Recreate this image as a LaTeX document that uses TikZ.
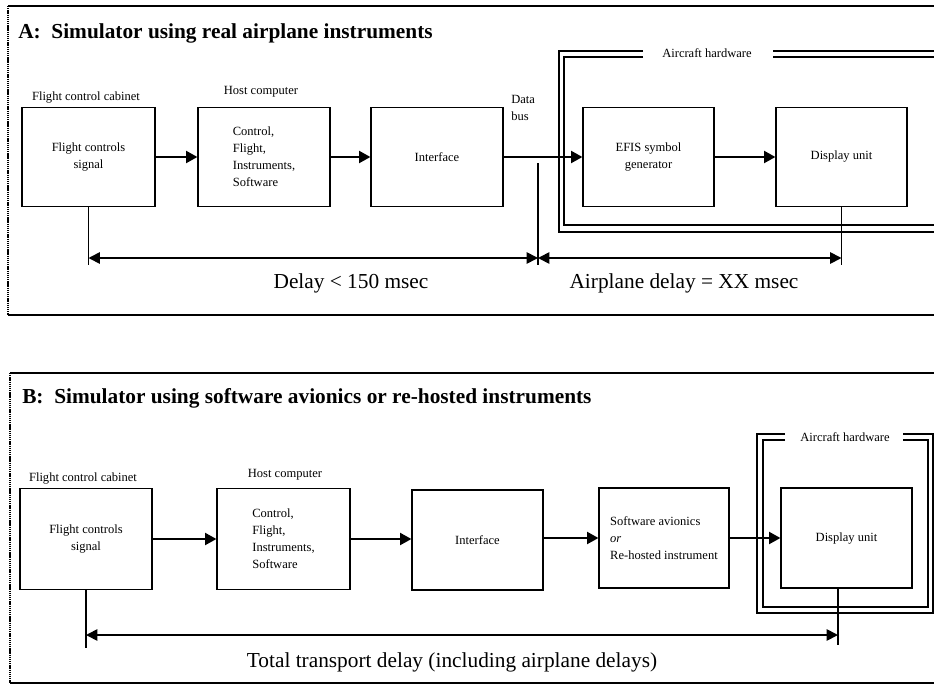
\documentclass[tikz,border=0pt]{standalone}
\usepackage{fontspec}
\setmainfont{Liberation Serif}
\usetikzlibrary{arrows.meta}
\begin{document}
\begin{tikzpicture}[x=0.75pt,y=-0.75pt,
  sz/.style 2 args={minimum width=#1*0.75pt,minimum height=#2*0.75pt},
  box/.style={draw,line width=0.9pt,inner sep=0pt,align=center,font=\fontsize{9.4}{12.75}\selectfont},
  small/.style={inner sep=0pt,align=left,font=\fontsize{9.4}{12.75}\selectfont},
  title/.style={inner sep=0pt,anchor=base west,font=\fontsize{16}{19}\selectfont\bfseries},
  big/.style={inner sep=0pt,anchor=base,font=\fontsize{16}{19}\selectfont},
  arr/.style={line width=1.5pt,-{Triangle[length=8.5pt,width=9pt]}},
  dim/.style={line width=1.3pt,{Triangle[length=8.5pt,width=8.5pt]}-{Triangle[length=8.5pt,width=8.5pt]}},
  tick/.style={line width=1.1pt},
  hw/.style={line width=0.9pt},
  panel/.style={line width=1.1pt},
  panelside/.style={line width=1.1pt,dash pattern=on 1pt off 0.6pt}
]
\useasboundingbox (0,0) rectangle (934,685);

% ---------- Panel A ----------
\draw[panel] (8,6) -- (934,6);
\draw[panel] (8,315) -- (934,315);
\draw[panelside] (8,6) -- (8,315);
\node[title] (tA) at (18,39) {A:\ \ Simulator using real airplane instruments};

% aircraft hardware enclosure (double line)
\draw[hw] (643,51) -- (559,51) -- (559,232) -- (934,232);
\draw[hw] (773,51) -- (934,51);
\draw[hw] (643,57) -- (564,57) -- (564,225) -- (934,225);
\draw[hw] (773,57) -- (934,57);
\node[small] (hwA) at (707,53) {Aircraft hardware};

\node[box,sz={133}{99}] (a1) at (88.5,157) {Flight controls\\signal};
\node[small,anchor=base] (a1l) at (86,100) {Flight control cabinet};
\node[box,sz={132}{99},align=left] (a2) at (264,157) {Control,\\Flight,\\Instruments,\\Software};
\node[small,anchor=base] (a2l) at (261,94) {Host computer};
\node[box,sz={132}{99}] (a3) at (437,157) {Interface};
\node[small,anchor=west] (dbus) at (511,108) {Data\\bus};
\node[box,sz={131}{99}] (a4) at (648.5,157) {EFIS symbol\\generator};
\node[box,sz={131}{99}] (a5) at (841.5,157) {Display unit};

\draw[arr] (a1.east) -- (a2.west);
\draw[arr] (a2.east) -- (a3.west);
\draw[arr] (a3.east) -- (a4.west);
\draw[arr] (a4.east) -- (a5.west);

% delay dimensions
\coordinate (busTop) at (538,163);
\coordinate (busFoot) at (538,265);
\coordinate (dA) at (538,258);
\draw[tick] (busTop) -- (busFoot);
\draw[tick] (a1.south) -- (a1.south |- busFoot);
\draw[tick] (a5.south) -- (a5.south |- busFoot);
\draw[dim] (a1.south |- dA) -- (dA);
\draw[dim] (dA) -- (a5.south |- dA);
\node[big] (dl1) at (351,288) {Delay < 150 msec};
\node[big] (dl2) at (684,288) {Airplane delay = XX msec};

% ---------- Panel B ----------
\draw[panel] (10,373) -- (934,373);
\draw[panel] (10,683) -- (934,683);
\draw[panelside] (10,373) -- (10,683);
\node[title] (tB) at (22,403) {B:\ \ Simulator using software avionics or re-hosted instruments};

% aircraft hardware enclosure (double line)
\draw[hw] (785,434) -- (757,434) -- (757,613) -- (933,613) -- (933,434) -- (903,434);
\draw[hw] (785,440) -- (763,440) -- (763,607) -- (928,607) -- (928,440) -- (903,440);
\node[small] (hwB) at (845,437) {Aircraft hardware};

\node[box,sz={132}{101}] (c1) at (86,539) {Flight controls\\signal};
\node[small,anchor=base] (c1l) at (83,481) {Flight control cabinet};
\node[box,sz={133}{101},align=left] (c2) at (283.5,539) {Control,\\Flight,\\Instruments,\\Software};
\node[small,anchor=base] (c2l) at (285,477) {Host computer};
\node[box,sz={131}{100}] (c3) at (477.5,540) {Interface};
\node[box,sz={130}{100},align=left] (c4) at (664,538) {Software avionics\\\textit{or}\\Re-hosted instrument};
\node[box,sz={131}{100}] (c5) at (846.5,538) {Display unit};

\draw[arr] (c1.east) -- (c2.west);
\draw[arr] (c2.east) -- (c3.west |- c2.east);
\draw[arr] (c3.east |- c4.west) -- (c4.west);
\draw[arr] (c4.east) -- (c5.west);

% total delay dimension
\coordinate (dB) at (838,635);
\coordinate (c5foot) at (838,645);
\draw[tick] (c1.south) -- ++(0,58);
\draw[tick] (c5.south -| c5foot) -- (c5foot);
\draw[dim] (c1.south |- dB) -- (dB);
\node[big] (dl3) at (452,667) {Total transport delay (including airplane delays)};
\end{tikzpicture}
\end{document}
